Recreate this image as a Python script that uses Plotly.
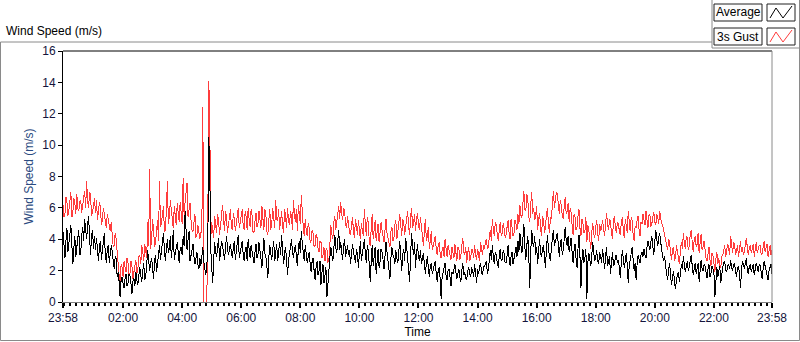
import pandas as pd
import plotly.graph_objects as go

# ---- data ----
# samples on the even 4-minute grid (23:58, 00:02, ... 23:58)
gust = [
    6.2, 5.6, 6.4, 5.9, 7.0, 5.7, 6.3, 6.9, 5.8, 6.5,
    6.1, 7.1, 7.7, 6.0, 6.8, 5.7, 6.6,
    6.5, 5.8, 6.0, 5.2, 5.6, 4.7, 5.3, 4.5,
    4.2, 3.6, 4.0, 3.0, 0.9,
    2.2, 2.6, 1.9, 2.5, 1.8, 2.3, 2.0, 2.7, 2.1,
    3.0, 3.6, 2.6, 3.3, 5.1, 8.5, 4.0, 4.6, 3.8, 5.2, 7.7,
    5.0, 6.1, 4.6, 7.7, 5.4, 6.0, 4.7, 5.6, 6.3, 5.1, 5.8,
    7.9, 6.4, 7.6, 5.9,
    5.2, 4.5, 5.6, 4.3, 4.2, 4.4,
    12.4, 0.0, 0.0, 14.1,
    4.0, 4.6, 5.5, 4.4, 5.2, 4.8, 6.2, 4.5, 5.4, 4.9, 5.9, 4.6, 5.3, 5.0, 6.0,
    5.1, 5.9, 4.6, 5.4, 6.0, 4.8, 5.5, 4.5, 5.7, 5.0,
    5.3, 6.1, 4.6, 5.6, 4.3, 5.9, 5.0, 5.5, 6.5,
    5.2, 4.6, 5.8, 4.4, 5.5, 6.0, 4.9, 5.4, 6.5, 5.1, 4.5, 5.7, 6.8,
    4.8, 5.3, 4.2, 4.7, 3.9, 4.4, 3.6, 4.1, 3.2, 3.8, 3.0, 2.6, 3.4, 2.7,
    4.9, 4.0, 5.5, 5.0, 6.1, 6.4, 5.2, 5.8, 4.7,
    5.0, 4.3, 5.4, 4.1, 4.8, 5.2, 4.0, 4.6,
    5.9, 4.2, 5.1, 3.6, 5.6, 4.5, 3.9, 5.0, 4.3,
    4.6, 3.8, 5.3, 4.1, 3.5, 4.8, 4.0, 5.2,
    4.4, 5.6, 4.2, 5.1, 4.7, 5.8, 4.3, 6.0, 5.0, 4.5, 5.7, 4.6,
    4.9, 3.6, 5.3, 4.2, 3.4, 4.5,
    3.6, 4.2, 3.0, 3.8, 2.8, 3.5, 4.0, 2.9, 3.3, 2.7,
    3.2, 3.7, 2.6, 3.4, 2.9, 4.1, 3.0, 2.5, 3.5, 2.8, 3.3, 3.6, 2.7, 3.1, 3.8, 3.0, 3.4,
    4.0, 3.5, 4.6, 5.3, 4.2, 4.9, 3.9, 5.1, 4.4, 4.7,
    4.3, 5.2, 4.0, 4.8, 4.4, 5.0, 5.6,
    6.2, 5.4, 7.1, 5.8, 6.6, 5.1, 7.0, 6.0, 5.5,
    4.6, 5.7, 4.2, 5.2, 4.8, 6.0, 4.4, 5.3,
    7.1, 6.4, 6.9, 5.6, 6.2, 5.3, 6.7, 5.8,
    5.1, 5.7, 4.3, 5.4, 4.8, 5.9, 4.2, 5.0, 4.5,
    3.8, 4.6, 3.4, 5.0, 4.1, 5.2, 3.9,
    4.5, 5.2, 4.2, 5.7, 4.6, 5.1, 4.0, 5.5, 4.4,
    5.0, 4.3, 5.4, 4.1, 4.8, 5.8, 4.5, 5.2, 3.9, 4.7, 5.5, 4.2, 5.0,
    5.3, 5.8, 4.7, 5.6, 5.0, 5.7, 4.9, 5.4, 5.8, 5.1, 4.6,
    4.0, 3.3, 3.8, 2.7, 3.5, 2.9, 3.2, 2.4,
    3.8, 4.4, 3.4, 4.1, 3.6, 4.6, 3.2, 4.2, 3.7, 3.1, 4.3, 3.5,
    3.3, 2.6, 3.5, 2.3, 3.0, 1.9, 3.2, 2.8, 2.2,
    3.0, 3.6, 3.2, 3.4, 4.2, 3.1, 3.7, 3.3, 2.9, 3.9,
    3.5, 3.2, 4.1, 3.0, 3.6, 3.4, 2.9, 3.8, 3.3, 3.6,
    3.1, 3.9, 3.4, 2.9, 3.6, 3.3,
]
# samples in between (00:00, 00:04, ... 23:56)
gust_mid = [
    5.4, 6.7, 5.5, 6.3, 5.4, 6.6, 5.6, 6.0, 6.4, 5.7,
    6.6, 6.0, 6.4, 7.0, 5.5, 6.2, 5.7,
    5.2, 6.4, 4.9, 6.0, 5.0, 5.6, 4.9, 5.1,
    3.5, 4.4, 3.2, 2.2, 2.4,
    1.6, 2.2, 2.8, 1.7, 2.6, 1.5, 2.4, 1.8, 2.9,
    2.4, 3.2, 3.7, 2.8, 3.6, 3.4, 5.3, 3.5, 4.4, 3.9, 4.8,
    5.6, 4.5, 5.9, 5.0, 6.5, 5.2, 6.1, 4.9, 5.5, 6.4, 5.0,
    5.5, 7.0, 5.4, 6.3,
    4.6, 5.3, 4.1, 4.9, 4.0, 4.6,
    0.0, 0.0, 4.3, 12.0,
    5.1, 4.1, 4.7, 5.6, 4.3, 5.5, 4.9, 5.8, 4.4, 5.5, 4.8, 5.7, 4.5, 5.6, 4.7,
    5.6, 4.8, 5.8, 4.6, 5.3, 5.9, 4.4, 5.2, 4.8, 5.8,
    4.7, 5.4, 5.9, 4.5, 5.2, 4.6, 6.0, 4.7, 5.3,
    5.9, 5.3, 4.8, 5.9, 4.7, 5.2, 5.8, 4.6, 5.6, 5.9, 6.2, 5.0, 5.5,
    4.2, 4.6, 5.0, 3.8, 4.6, 3.5, 4.3, 3.4, 3.9, 2.8, 3.5, 3.3, 2.5, 3.6,
    4.3, 5.1, 4.6, 5.7, 5.3, 5.6, 6.0, 4.9, 5.5,
    4.4, 5.1, 4.5, 5.3, 4.3, 4.7, 5.0, 4.2,
    4.8, 5.4, 3.9, 4.7, 4.0, 5.2, 4.6, 3.8, 5.1,
    4.1, 4.6, 4.4, 3.6, 4.5, 3.9, 4.9, 4.0,
    5.0, 4.5, 5.3, 4.3, 5.4, 4.8, 5.4, 4.7, 5.6, 5.3, 4.9, 5.4,
    4.1, 4.5, 3.9, 4.8, 3.9, 3.3,
    3.9, 3.4, 3.6, 3.1, 3.3, 2.9, 3.4, 3.6, 2.9, 3.5,
    2.8, 3.1, 3.5, 2.7, 3.6, 3.2, 3.5, 3.1, 2.6, 3.4, 2.8, 3.0, 3.4, 2.6, 3.3, 3.6, 3.8,
    3.4, 4.2, 3.9, 4.6, 5.1, 4.3, 4.5, 4.2, 5.0, 4.1,
    4.8, 4.4, 5.3, 4.2, 5.2, 4.6, 5.0,
    5.5, 6.4, 5.9, 6.9, 5.4, 6.2, 5.6, 5.2, 6.1,
    5.2, 4.7, 5.5, 4.4, 5.6, 4.9, 5.4, 6.2,
    6.0, 7.0, 5.9, 6.5, 5.5, 6.1, 5.6, 6.3,
    6.0, 4.9, 5.6, 4.6, 5.5, 4.7, 5.3, 4.4, 5.4,
    4.9, 3.9, 4.5, 4.3, 4.8, 4.4, 5.0,
    4.8, 4.6, 5.0, 4.9, 5.3, 4.4, 5.2, 4.7, 5.1,
    4.5, 5.1, 4.6, 5.3, 4.4, 5.0, 5.4, 4.3, 4.8, 5.2, 4.6, 5.1, 5.6,
    4.9, 5.2, 5.5, 4.8, 5.4, 5.1, 5.6, 5.0, 5.3, 4.8, 4.2,
    3.6, 4.0, 3.1, 3.4, 2.6, 3.6, 2.5, 3.3,
    3.4, 3.7, 4.2, 3.3, 4.3, 3.8, 4.0, 3.5, 4.4, 3.8, 3.3, 3.9,
    2.8, 3.2, 2.7, 3.1, 2.5, 2.7, 2.4, 2.3, 2.9,
    3.3, 2.9, 3.7, 3.0, 3.5, 3.8, 3.0, 3.6, 3.4, 3.2,
    3.0, 3.7, 3.4, 3.5, 3.1, 3.7, 3.4, 3.1, 3.6, 3.0,
    3.5, 3.2, 3.7, 3.4, 3.0,
]

average = [
    4.5, 2.8, 4.7, 3.6, 4.9, 2.4, 4.2, 3.5, 4.6, 3.1,
    4.8, 5.3, 4.0, 5.5, 3.0, 4.6, 4.2,
    4.1, 2.6, 3.9, 3.3, 4.4, 2.5, 3.6, 2.9,
    3.2, 2.1, 2.8, 1.9, 0.3,
    1.6, 0.9, 1.8, 1.2, 1.7, 0.5, 1.5, 1.9, 1.1,
    2.2, 1.3, 2.5, 1.6, 3.3, 2.0, 2.8, 1.5, 3.0, 2.4, 3.6,
    3.2, 4.4, 2.6, 4.0, 3.4, 2.8, 4.6, 3.1, 3.8, 2.5, 3.5,
    4.2, 5.8, 3.3, 4.5,
    3.0, 3.7, 2.4, 3.2, 2.1, 2.3,
    3.5, 2.0, 2.4, 10.5,
    3.4, 1.2, 3.8, 2.9, 4.1, 3.2, 3.6, 2.7, 4.2, 3.0, 3.7, 2.8, 3.9, 3.3, 4.3,
    3.1, 3.9, 2.6, 3.5, 4.0, 2.8, 3.3, 2.5, 3.7, 3.0,
    3.4, 2.2, 4.1, 2.9, 1.5, 3.6, 2.7, 3.9, 3.2,
    2.6, 3.8, 4.3, 2.4, 3.5, 1.7, 3.1, 4.0, 2.8, 3.6, 2.3, 3.9, 4.5,
    3.0, 3.6, 2.5, 3.2, 1.9, 2.8, 1.4, 2.6, 2.0, 1.1, 2.4, 1.6, 0.3, 1.9,
    3.5, 2.6, 4.3, 3.1, 4.6, 3.8, 2.7, 4.0, 3.2,
    3.0, 2.4, 3.7, 2.8, 3.4, 2.2, 3.9, 3.1,
    4.0, 2.5, 3.3, 1.3, 3.6, 2.9, 1.8, 3.4, 2.6,
    3.2, 2.1, 3.8, 2.7, 1.5, 3.5, 2.9, 3.3,
    2.5, 3.9, 2.0, 3.4, 4.1, 2.8, 1.3, 4.4, 3.0, 2.2, 3.7, 2.6,
    2.4, 3.1, 1.8, 2.9, 1.6, 2.5,
    2.0, 2.6, 1.3, 2.2, 0.2, 1.9, 2.5, 1.4, 2.1, 1.0,
    1.8, 2.4, 1.5, 2.1, 1.3, 2.5, 1.9, 1.4, 2.2, 1.6, 2.0, 2.4, 1.2, 1.8, 2.5, 1.7, 2.3,
    2.6, 2.1, 3.3, 3.6, 2.4, 3.0, 2.2, 3.4, 2.7, 3.1,
    2.5, 3.6, 2.3, 3.2, 2.8, 3.5, 3.9,
    4.4, 3.1, 5.0, 2.7, 4.2, 0.9, 4.6, 3.5, 3.0,
    2.4, 4.0, 2.9, 3.6, 2.2, 4.3, 3.0, 3.5,
    4.6, 3.8, 4.4, 2.9, 4.0, 3.3, 4.8, 3.6,
    3.2, 4.1, 2.5, 3.7, 2.2, 4.3, 0.9, 3.4, 2.8,
    0.2, 3.1, 2.3, 3.8, 2.6, 3.3, 2.4,
    2.9, 3.4, 2.1, 3.5, 2.6, 1.8, 3.2, 2.4, 3.0,
    2.7, 1.5, 3.3, 2.2, 3.1, 1.2, 2.8, 3.5, 2.0, 1.4, 3.0, 2.5, 3.2,
    3.4, 2.8, 3.9, 3.3, 4.2, 3.0, 4.6, 3.6, 4.4, 3.1, 2.6,
    2.3, 1.4, 2.5, 1.1, 2.0, 0.8, 1.7, 1.3,
    2.4, 2.9, 1.9, 2.6, 2.2, 3.0, 1.7, 2.5, 2.1, 1.3, 2.7, 2.0,
    2.3, 1.5, 2.4, 1.8, 2.1, 0.3, 2.2, 1.9, 1.2,
    2.2, 2.6, 1.9, 2.4, 2.7, 2.0, 2.5, 1.6, 2.3, 0.9,
    2.6, 2.1, 2.8, 1.8, 2.4, 2.2, 1.7, 2.5, 1.9, 2.3,
    1.5, 2.6, 2.0, 1.4, 2.3, 1.8,
]
average_mid = [
    3.6, 3.9, 3.2, 4.3, 3.7, 3.4, 2.9, 4.4, 3.0, 4.2,
    3.9, 4.6, 4.9, 4.1, 4.2, 3.4, 3.3,
    3.4, 3.5, 2.7, 3.8, 3.0, 3.4, 2.5, 3.6,
    2.6, 2.9, 1.6, 1.3, 1.4,
    1.2, 1.5, 1.0, 1.8, 1.2, 1.3, 1.0, 1.4, 1.7,
    1.7, 2.0, 1.4, 2.4, 2.6, 2.5, 2.1, 2.6, 1.9, 3.1, 2.7,
    3.8, 3.3, 3.4, 3.1, 4.2, 3.5, 2.7, 3.7, 3.2, 3.4, 3.0,
    3.6, 4.6, 4.0, 2.6,
    3.4, 2.9, 2.8, 2.4, 2.8, 2.9,
    2.6, 1.7, 3.0, 8.6,
    2.1, 2.6, 3.2, 3.5, 2.6, 3.9, 2.9, 3.4, 3.5, 3.3, 3.2, 3.5, 2.7, 3.6, 2.8,
    3.5, 3.0, 3.3, 2.6, 3.4, 3.6, 2.9, 3.2, 2.8, 3.8,
    2.8, 3.3, 3.1, 2.3, 2.8, 3.1, 3.4, 2.6, 3.7,
    3.2, 3.0, 3.3, 3.1, 2.7, 2.6, 3.6, 3.2, 3.3, 2.9, 3.4, 3.1, 3.7,
    2.6, 3.1, 2.9, 2.4, 2.6, 2.0, 2.2, 1.7, 2.6, 1.9, 1.2, 2.2, 1.4, 2.8,
    3.0, 3.4, 3.5, 3.9, 3.3, 3.2, 3.6, 2.9, 3.6,
    3.3, 3.0, 3.2, 2.5, 3.0, 3.1, 2.6, 3.5,
    3.1, 3.6, 2.4, 2.6, 2.3, 3.5, 2.7, 2.2, 3.4,
    2.7, 2.9, 3.2, 2.3, 2.8, 3.0, 2.4, 2.8,
    3.2, 2.9, 3.0, 2.6, 3.5, 2.2, 3.0, 3.5, 3.8, 3.1, 2.9, 3.3,
    2.8, 2.4, 2.5, 2.2, 2.3, 1.8,
    2.4, 1.8, 2.0, 1.5, 1.6, 2.3, 1.7, 2.0, 1.6, 1.9,
    2.1, 1.9, 1.8, 1.6, 2.0, 1.7, 1.5, 2.0, 1.8, 2.2, 1.6, 1.9, 2.1, 2.2, 1.9, 2.2, 2.4,
    1.8, 2.8, 2.7, 2.9, 3.2, 2.5, 2.9, 2.6, 3.3, 2.5,
    3.0, 2.8, 2.9, 2.4, 3.3, 2.9, 3.2,
    3.6, 4.0, 3.5, 3.6, 3.0, 3.2, 3.8, 4.2, 3.5,
    3.3, 3.1, 3.4, 2.8, 3.5, 3.3, 2.6, 4.0,
    3.6, 4.1, 3.5, 3.7, 3.0, 4.0, 3.9, 4.2,
    3.6, 3.2, 3.3, 2.8, 3.4, 2.9, 2.6, 2.5, 3.4,
    2.5, 2.7, 3.0, 3.1, 2.9, 2.6, 3.2,
    2.5, 2.8, 2.9, 2.3, 2.9, 2.7, 2.3, 2.9, 2.5,
    2.2, 2.6, 2.8, 2.6, 2.4, 2.3, 3.1, 2.7, 2.5, 2.4, 2.7, 3.0, 2.9,
    3.0, 3.5, 3.6, 3.8, 3.5, 3.9, 4.0, 4.1, 3.8, 2.9, 2.9,
    1.9, 2.0, 1.7, 1.6, 1.3, 1.5, 1.9, 2.0,
    2.1, 2.4, 2.3, 2.0, 2.7, 2.3, 2.1, 1.8, 2.5, 2.2, 2.1, 2.4,
    1.9, 2.1, 1.6, 2.3, 1.9, 1.8, 1.6, 2.3, 1.9,
    2.5, 2.0, 2.3, 2.1, 2.2, 2.4, 1.9, 2.2, 1.8, 2.0,
    2.4, 2.5, 2.0, 2.3, 1.9, 2.4, 2.1, 2.2, 2.4, 1.9,
    2.1, 2.3, 1.7, 2.0, 2.4,
]

start_time = "2000-01-01 23:58"
sample_minutes = 2
tick_times = ["2000-01-01 23:58", "2000-01-02 02:00", "2000-01-02 04:00",
              "2000-01-02 06:00", "2000-01-02 08:00", "2000-01-02 10:00",
              "2000-01-02 12:00", "2000-01-02 14:00", "2000-01-02 16:00",
              "2000-01-02 18:00", "2000-01-02 20:00", "2000-01-02 22:00",
              "2000-01-02 23:58"]
tick_labels = ["23:58", "02:00", "04:00", "06:00", "08:00", "10:00", "12:00",
               "14:00", "16:00", "18:00", "20:00", "22:00", "23:58"]
y_ticks = [0, 2, 4, 6, 8, 10, 12, 14, 16]


def interleave(a, b):
    out = []
    for i, v in enumerate(a):
        out.append(v)
        if i < len(b):
            out.append(b[i])
    return out


gust_all = interleave(gust, gust_mid)
avg_all = interleave(average, average_mid)
t_gust = pd.date_range(start_time, periods=len(gust_all), freq=f"{sample_minutes}min")
t_avg = pd.date_range(start_time, periods=len(avg_all), freq=f"{sample_minutes}min")

# ---- geometry (pixels) ----
W, H = 800, 342
L, R, T, B = 63, 772, 51, 302


def px(x):
    return (x - L) / (R - L)


def py(y):
    return (B - y) / (B - T)


FONT = "Liberation Sans"
TICKCOL = "#14143c"

fig = go.Figure()
fig.add_trace(go.Scatter(x=t_gust, y=gust_all, mode="lines", name="3s Gust",
                         line=dict(color="#ff3c3c", width=1)))
fig.add_trace(go.Scatter(x=t_avg, y=avg_all, mode="lines", name="Average",
                         line=dict(color="#000000", width=1)))

fig.update_layout(
    width=W, height=H,
    margin=dict(l=L, r=W - R, t=T, b=H - B),
    paper_bgcolor="white", plot_bgcolor="white",
    showlegend=False,
    font=dict(family=FONT, size=12, color=TICKCOL),
)

fig.update_xaxes(
    range=[tick_times[0], tick_times[-1]], automargin=False,
    tickmode="array", tickvals=tick_times, ticktext=tick_labels,
    ticks="outside", ticklen=5, tickcolor="#000000", tickwidth=2,
    showgrid=False, zeroline=False,
    showline=True, linecolor="#808080", linewidth=1,
    tickfont=dict(family=FONT, size=12, color=TICKCOL),
    title=dict(text="Time", font=dict(family=FONT, size=12, color="#000000"), standoff=2),
    minor=dict(tickmode="linear", tick0="2000-01-02 00:00", dtick=12 * 60 * 1000,
               ticks="outside", ticklen=3, tickcolor="#000000", showgrid=False),
)
fig.update_yaxes(
    range=[0, 16], tickmode="array", tickvals=y_ticks, automargin=False,
    ticks="outside", ticklen=4, tickcolor="#000000",
    showgrid=False, zeroline=False,
    showline=True, linecolor="#000000", linewidth=1,
    tickfont=dict(family=FONT, size=12, color=TICKCOL),
    title=dict(text="Wind Speed (m/s)", font=dict(family=FONT, size=12, color="#2a4a80"),
               standoff=6),
)

shapes = []
gray = "#8a8a8a"
# plot frame top / right
shapes.append(dict(type="line", xref="paper", yref="paper", x0=px(L), x1=px(R), y0=py(T), y1=py(T),
                   line=dict(color="#000000", width=1)))
shapes.append(dict(type="line", xref="paper", yref="paper", x0=px(R), x1=px(R), y0=py(T), y1=py(B),
                   line=dict(color=gray, width=1)))
# outer chart frame
for (x0, y0, x1, y1) in [(0.5, 42, 712, 42), (0.5, 42, 0.5, 340.5), (0.5, 340.5, 799.5, 340.5),
                         (799.5, 0, 799.5, 340.5), (712, 0, 712, 48), (712, 48, 799.5, 48)]:
    shapes.append(dict(type="line", xref="paper", yref="paper",
                       x0=px(x0), x1=px(x1), y0=py(y0), y1=py(y1),
                       line=dict(color=gray, width=1)))
# legend boxes
legend_rows = [("Average", "#000000", 4, 21), ("3s Gust", "#ff3c3c", 28, 45)]
annotations = []
for name, col, y0, y1 in legend_rows:
    shapes.append(dict(type="rect", xref="paper", yref="paper", x0=px(714), x1=px(762),
                       y0=py(y1), y1=py(y0), line=dict(color="#202020", width=1),
                       fillcolor="#fcfcfc"))
    shapes.append(dict(type="rect", xref="paper", yref="paper", x0=px(767), x1=px(795),
                       y0=py(y1), y1=py(y0), line=dict(color="#202020", width=1),
                       fillcolor="#ffffff"))
    pts = [(770, y1 - 3), (776, y0 + 4), (783, y1 - 3), (792, y0 + 2)]
    path = "M " + " L ".join(f"{px(a):.5f},{py(b):.5f}" for a, b in pts)
    shapes.append(dict(type="path", xref="paper", yref="paper", path=path,
                       line=dict(color=col, width=1)))
    annotations.append(dict(text=name, xref="paper", yref="paper", x=px(738), y=py((y0 + y1) / 2),
                            xanchor="center", yanchor="middle", showarrow=False,
                            font=dict(family=FONT, size=12, color="#000000")))

annotations.append(dict(text="Wind Speed (m/s)", xref="paper", yref="paper", x=px(4), y=py(31),
                        xanchor="left", yanchor="middle", showarrow=False,
                        font=dict(family=FONT, size=12, color="#000000")))

fig.update_layout(shapes=shapes, annotations=annotations)
fig.write_html(
    "out.html", config={"displayModeBar": False},
    post_script=(
        "document.body.style.margin='0';document.body.style.padding='0';"
        "document.body.style.overflow='hidden';"
        "document.querySelectorAll('.scatterlayer path.js-line')"
        ".forEach(function(p){p.style.shapeRendering='crispEdges';});"
    ),
)
